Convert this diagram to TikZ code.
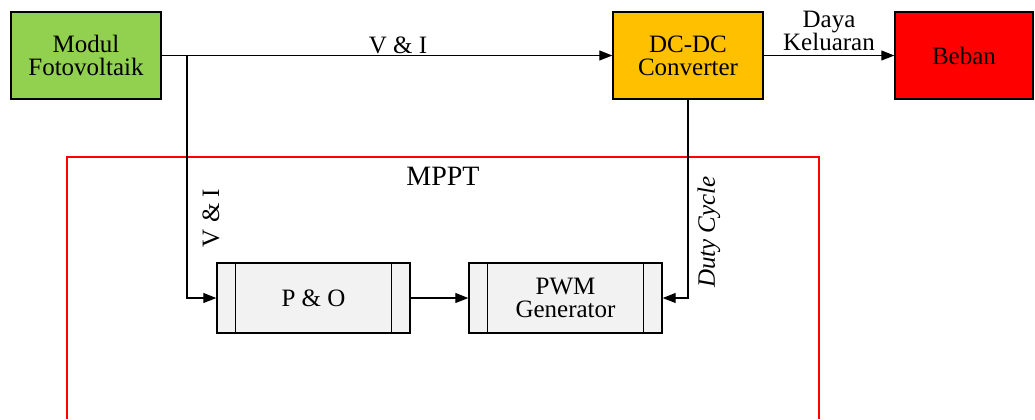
\documentclass[tikz,border=0pt]{standalone}
\usepackage{fontspec}
\setmainfont{Liberation Serif}
\usetikzlibrary{arrows.meta}
\definecolor{pvgreen}{HTML}{92D050}
\definecolor{convorange}{HTML}{FFC000}
\definecolor{loadred}{HTML}{FF0000}
\definecolor{procgray}{HTML}{F2F2F2}
\tikzset{
  blk/.style={draw=black, line width=0.7pt, minimum width=75pt, minimum height=43.5pt, inner sep=0pt, align=center, font=\rmfamily\fontsize{12.5}{11.5}\selectfont},
  proc/.style={blk, fill=procgray, minimum width=96.5pt, minimum height=35pt},
  conn/.style={line width=0.6pt, -{Triangle[length=6.5pt,width=5pt]}},
  lbl/.style={font=\rmfamily\fontsize{12.5}{11.5}\selectfont, align=center, inner sep=0pt}
}
\begin{document}
\begin{tikzpicture}[x=0.5pt,y=-0.5pt]
\useasboundingbox (0,0) rectangle (1035,419);
% red MPPT frame (open at bottom)
\draw[loadred, line width=0.6pt] (67,419) -- (67,157) -- (819,157) -- (819,419);
\node[font=\rmfamily\fontsize{14}{16}\selectfont] (mppt) at (443,176) {MPPT};
% top blocks
\node[blk, fill=pvgreen] (pv) at (86,55.5) {Modul\\Fotovoltaik};
\node[blk, fill=convorange] (dc) at (688,55.5) {DC-DC\\Converter};
\node[blk, fill=loadred, minimum width=69pt] (load) at (964,55.5) {Beban};
% lower blocks
\node[proc] (po) at (313.5,298) {P \& O};
\node[proc] (pwm) at (565.5,298) {PWM\\Generator};
\foreach \n in {po,pwm}{
  \draw[line width=0.7pt] ([xshift=9.5pt]\n.north west) -- ([xshift=9.5pt]\n.south west);
  \draw[line width=0.7pt] ([xshift=-9.5pt]\n.north east) -- ([xshift=-9.5pt]\n.south east);
}
% connectors
\coordinate (br) at (187,55.5);
\draw[conn] (pv.east) -- (dc.west);
\draw[conn] (dc.east) -- (load.west);
\draw[conn] (br) |- (po.west);
\draw[conn] (po.east) -- (pwm.west);
\draw[conn] (dc.south) |- (pwm.east);
% labels
\node[lbl] (vi1) at (398,45) {V \& I};
\node[lbl] (daya) at (829,31) {Daya\\Keluaran};
\node[lbl, rotate=90] (vi2) at (211,218) {V \& I};
\node[lbl, rotate=90] (duty) at (709,232) {\itshape Duty Cycle};
\end{tikzpicture}
\end{document}
